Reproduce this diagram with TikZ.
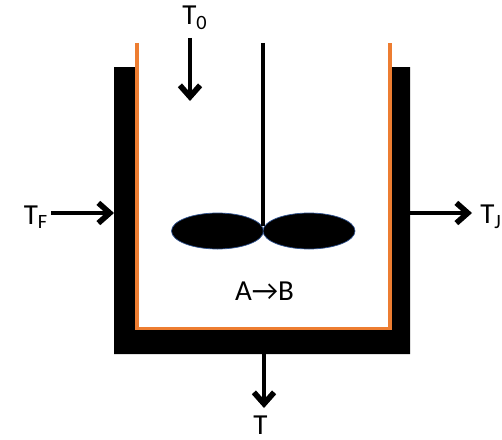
\documentclass[tikz,border=0pt]{standalone}
\usepackage{fontspec}
\setmainfont{Carlito}
\usetikzlibrary{arrows.meta, positioning, shapes.geometric}
\definecolor{VesselOrange}{HTML}{ED7D31}
\definecolor{BladeBlue}{HTML}{2F528F}
\tikzset{
    flow/.style={line width=2.8pt, -{Straight Barb[length=6.5pt, width=11.5pt, line width=3.2pt]}},
    blade/.style={ellipse, fill=black, draw=BladeBlue, line width=0.4pt, minimum width=92\pxu, minimum height=36\pxu, inner sep=0pt},
    temp/.style={font=\fontsize{16.5}{18}\selectfont, inner sep=0pt}
}
\newcommand{\pxu}{*0.02cm}
\begin{document}
\begin{tikzpicture}[x=0.02cm, y=-0.02cm]
    \useasboundingbox (0,0) rectangle (502,439);

    % Cooling jacket
    \fill[black] (114,67) -- (137,67) -- (137,328) -- (390,328) -- (390,67) -- (410,67)
        -- (410,354) -- (114,354) -- cycle;

    % Vessel wall
    \draw[VesselOrange, line width=2.1pt] (137.2,43) -- (137.2,328.5) -- (390,328.5) -- (390,43);

    % Stirrer
    \node[blade] (bladeL) at (217.5,231) {};
    \node[blade] (bladeR) at (309,231) {};
    \coordinate (shaftTop) at (263,43);
    \coordinate (shaftEnd) at (263,226);
    \draw[line width=2.6pt] (shaftTop) -- (shaftEnd);

    % Reaction
    \node[temp] (reaction) at (264.5,291.5) {A→B};

    % Feed from the top
    \node[temp] (labelTop) at (195,18) {T\textsubscript{0}};
    \coordinate (topStart) at (190,38);
    \coordinate (topEnd) at (190,101);
    \draw[flow] (topStart) -- (topEnd);

    % Jacket inlet
    \node[temp] (labelIn) at (36,217) {T\textsubscript{F}};
    \coordinate (inStart) at (51,213);
    \coordinate (inEnd) at (114,213);
    \draw[flow] (inStart) -- (inEnd);

    % Jacket outlet
    \node[temp] (labelOut) at (491,217) {T\textsubscript{J}};
    \coordinate (outStart) at (410,213);
    \coordinate (outEnd) at (472,213);
    \draw[flow] (outStart) -- (outEnd);

    % Reactor outlet
    \node[temp] (labelBottom) at (260.5,425) {T};
    \coordinate (botStart) at (264,354);
    \coordinate (botEnd) at (264,408);
    \draw[flow] (botStart) -- (botEnd);
\end{tikzpicture}
\end{document}
